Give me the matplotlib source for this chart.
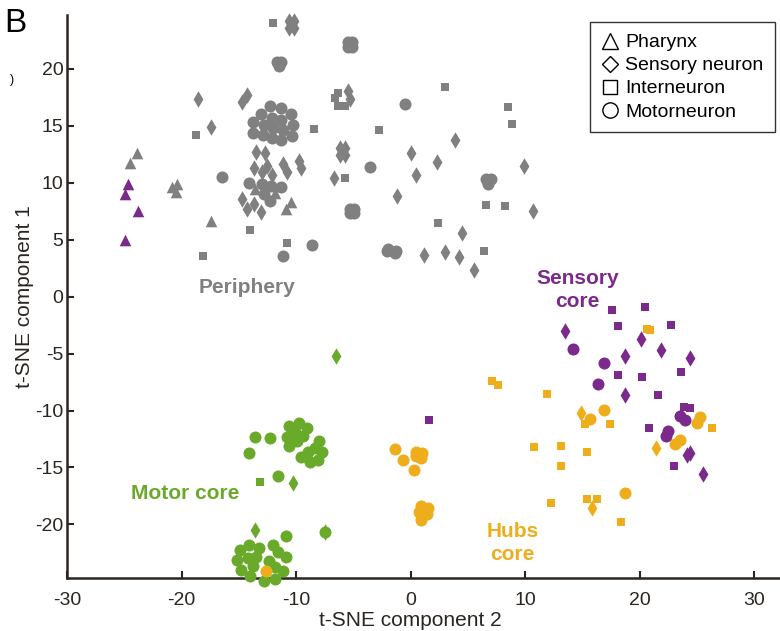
import matplotlib
matplotlib.use("Agg")
import matplotlib.pyplot as plt
from matplotlib.lines import Line2D

plt.rcParams['font.family'] = ['Liberation Sans', 'DejaVu Sans']
plt.rcParams['axes.unicode_minus'] = False

GRAY = '#808080'
PURPLE = '#7b2a8c'
GREEN = '#6aaa2a'
ORANGE = '#eeae1c'
INK = '#2a2520'

# periphery (gray)
gray_tri = [(-23.9, 12.6), (-24.5, 11.75), (-20.4, 9.85), (-20.8, 9.65), (-20.45, 9.2),
            (-17.4, 6.6), (-13.6, 9.4), (-11.8, 9.1), (-10.4, 8.3), (-10.9, 7.7)]
gray_dia = [(-10.6, 24.2), (-10.2, 24.2), (-10.6, 23.6), (-10.2, 23.6), (-18.6, 17.3),
            (-14.7, 17.1), (-14.3, 17.7), (-17.4, 14.9), (-13.5, 12.7), (-12.7, 12.6),
            (-13.7, 11.3), (-13.0, 10.9), (-12.5, 11.5), (-12.1, 10.7), (-11.1, 11.6),
            (-10.8, 10.9), (-9.7, 11.9), (-9.6, 11.3), (-6.7, 10.4), (-6.2, 13.0),
            (-5.7, 13.0), (-6.2, 12.4), (-5.7, 12.4), (-5.5, 18.0), (-5.3, 17.3),
            (-14.7, 8.6), (-13.7, 8.1), (-14.3, 7.7), (-13.1, 7.4), (3.85, 13.7),
            (0.0, 12.6), (2.3, 11.8), (9.9, 11.5), (0.5, 10.7), (-1.15, 8.8),
            (10.7, 7.5), (4.45, 5.6), (1.2, 3.65), (3.0, 3.9), (4.2, 3.45), (5.5, 2.3)]
gray_sq = [(-12.0, 24.0), (-18.7, 14.2), (-8.45, 14.7), (-6.3, 17.9), (-6.6, 17.4),
           (-6.3, 16.7), (-5.7, 16.7), (3.0, 18.4), (8.5, 16.6), (8.85, 15.15),
           (-2.8, 14.65), (-5.75, 10.4), (6.6, 8.0), (8.25, 7.95), (2.4, 6.45),
           (-10.8, 4.7), (6.4, 4.0), (-14.0, 5.85), (-18.1, 3.6)]
gray_circ = [(-12.24, 16.73), (-11.29, 16.58), (-10.42, 16.03), (-13.03, 16.03),
             (-13.76, 15.35), (-12.1, 15.7), (-11.29, 15.53), (-10.28, 15.06),
             (-12.83, 15.06), (-12.02, 14.82), (-11.17, 14.65), (-13.76, 14.39),
             (-12.89, 14.18), (-12.07, 13.95), (-11.29, 13.77), (-10.37, 14.1),
             (-14.1, 10.0), (-13.0, 9.85), (-12.2, 9.7), (-11.3, 9.6), (-12.8, 9.0),
             (-12.3, 8.4), (-16.5, 10.5), (-11.7, 20.6), (-11.3, 20.6), (-11.5, 20.2),
             (-5.5, 22.3), (-5.1, 22.3), (-5.5, 21.9), (-5.1, 21.9), (-0.5, 16.9),
             (-3.5, 11.35), (6.6, 10.3), (7.0, 10.3), (6.8, 9.9), (-5.3, 7.7),
             (-4.9, 7.7), (-5.3, 7.3), (-4.9, 7.3), (-8.6, 4.5), (-11.1, 3.6),
             (-2.1, 4.0), (-1.3, 4.0), (-2.0, 4.2), (-1.4, 3.8)]

# sensory core (purple)
purple_tri = [(-24.7, 9.9), (-24.9, 9.0), (-23.8, 7.5), (-24.9, 5.0)]
purple_sq = [(17.55, -1.2), (20.5, -0.9), (18.1, -2.6), (22.7, -2.5), (23.6, -6.6),
             (18.15, -6.9), (20.2, -7.1), (21.6, -8.6), (23.9, -9.7), (24.4, -9.8),
             (20.85, -11.5), (23.0, -14.85), (1.6, -10.8)]
purple_dia = [(13.5, -3.0), (20.1, -3.7), (18.7, -5.2), (21.85, -4.7), (24.4, -5.4),
              (18.7, -8.6), (24.1, -13.9), (24.4, -13.7), (25.5, -15.55)]
purple_circ = [(14.2, -4.6), (16.9, -5.8), (16.4, -7.7), (23.5, -10.5), (24.0, -10.8),
               (22.5, -11.8), (22.3, -12.2)]

# hubs core (orange)
orange_sq = [(20.65, -2.85), (20.9, -2.9), (11.9, -8.55), (7.1, -7.4), (7.65, -7.8),
             (15.2, -11.2), (17.4, -11.2), (26.3, -11.5), (10.8, -13.2), (13.1, -13.1),
             (15.4, -13.6), (13.1, -14.9), (12.3, -18.1), (15.4, -17.8), (16.3, -17.8),
             (18.4, -19.8)]
orange_dia = [(14.9, -10.2), (21.4, -13.3), (15.8, -18.6)]
orange_circ = [(16.9, -9.95), (15.7, -10.75), (25.3, -10.6), (25.0, -11.1), (23.5, -12.6),
               (23.1, -12.95), (18.7, -17.2), (-1.4, -13.4), (-0.65, -14.3), (0.5, -13.6),
               (1.0, -13.7), (0.5, -14.0), (0.95, -14.2), (0.3, -15.2), (0.95, -18.4),
               (1.5, -18.55), (0.7, -18.9), (1.45, -19.1), (0.95, -19.6), (-12.65, -24.06)]

# motor core (green)
green_dia = [(-6.55, -5.2), (-10.3, -16.4), (-13.55, -20.5), (-7.5, -20.7)]
green_sq = [(-13.15, -16.3)]
green_circ = [(-10.65, -11.4), (-9.78, -11.1), (-9.03, -11.55), (-10.07, -11.93),
              (-10.8, -12.3), (-9.41, -12.2), (-10.65, -13.1), (-9.93, -12.7),
              (-7.96, -12.7), (-8.33, -13.25), (-9.0, -13.65), (-7.7, -13.6),
              (-9.55, -14.1), (-8.77, -14.55), (-8.04, -14.3), (-13.6, -12.3),
              (-12.3, -12.45), (-14.1, -13.7), (-11.6, -15.75), (-10.9, -21.0),
              (-7.5, -20.7), (-14.9, -22.2), (-14.07, -21.84), (-13.26, -22.08),
              (-12.04, -21.84), (-11.6, -22.46), (-15.15, -23.13), (-14.2, -22.96),
              (-13.46, -22.87), (-12.4, -23.18), (-10.9, -22.9), (-13.76, -23.68),
              (-11.87, -23.75), (-14.77, -23.97), (-11.1, -24.06), (-14.04, -24.56),
              (-12.8, -24.94), (-11.8, -24.8)]

legend_labels = ['Pharynx', 'Sensory neuron', 'Interneuron', 'Motorneuron']

SIZES = {'^': 70, 'd': 70, 's': 34, 'o': 75}

fig = plt.figure(figsize=(7.8, 6.31), dpi=100)
ax = fig.add_axes([0.0859, 0.084, 0.914, 0.892])


def draw(points, marker, color):
    xs = [p[0] for p in points]
    ys = [p[1] for p in points]
    ax.scatter(xs, ys, s=SIZES[marker], marker=marker, c=color,
               linewidths=0, clip_on=False, zorder=3)


draw(gray_circ, 'o', GRAY)
draw(gray_dia, 'd', GRAY)
draw(gray_sq, 's', GRAY)
draw(gray_tri, '^', GRAY)
draw(green_circ, 'o', GREEN)
draw(green_dia, 'd', GREEN)
draw(green_sq, 's', GREEN)
draw(orange_circ, 'o', ORANGE)
draw(orange_dia, 'd', ORANGE)
draw(orange_sq, 's', ORANGE)
draw(purple_circ, 'o', PURPLE)
draw(purple_dia, 'd', PURPLE)
draw(purple_sq, 's', PURPLE)
draw(purple_tri, '^', PURPLE)

ax.set_xlim(-30, 32.25)
ax.set_ylim(-24.7, 24.7)
ax.set_xticks([-30, -20, -10, 0, 10, 20, 30])
ax.set_yticks([-20, -15, -10, -5, 0, 5, 10, 15, 20])
for s in ['top', 'right']:
    ax.spines[s].set_visible(False)
for s in ['left', 'bottom']:
    ax.spines[s].set_linewidth(1.8)
    ax.spines[s].set_color(INK)
ax.tick_params(direction='in', length=5, width=1.5, color=INK,
               labelsize=14, labelcolor=INK)
ax.tick_params(axis='x', pad=10)
ax.tick_params(axis='y', pad=2.5)
ax.set_xlabel('t-SNE component 2', fontsize=15, color=INK)
ax.set_ylabel('t-SNE component 1', fontsize=15, color=INK, labelpad=1)
ax.xaxis.set_label_coords(0.482, -0.058)

lab = dict(fontsize=15, fontweight='bold', ha='center', va='center', linespacing=1.25)
ax.text(-14.3, 0.8, 'Periphery', color=GRAY, **lab)
ax.text(14.57, 0.6, 'Sensory\ncore', color=PURPLE, **lab)
ax.text(-19.7, -17.3, 'Motor core', color=GREEN, **lab)
ax.text(8.9, -21.6, 'Hubs\ncore', color=ORANGE, **lab)

handles = [Line2D([], [], ls='none', marker=m, markersize=ms, markerfacecolor='none',
                  markeredgecolor='black', markeredgewidth=1.0)
           for m, ms in [('^', 11), ('D', 8.5), ('s', 9.5), ('o', 11)]]
leg = fig.legend(handles, legend_labels,
                 loc='upper right', bbox_to_anchor=(0.9936, 0.965), fontsize=14,
                 frameon=True, fancybox=False, edgecolor='black', handlelength=0.8,
                 handletextpad=0.4, labelspacing=0.28, borderpad=0.6, borderaxespad=0)
leg.get_frame().set_linewidth(1.0)

fig.text(0.005, 0.987, 'B', fontsize=24, ha='left', va='top')
fig.text(0.013, 0.873, ')', fontsize=9, ha='left', va='center')

fig.savefig('out.png', dpi=100)
